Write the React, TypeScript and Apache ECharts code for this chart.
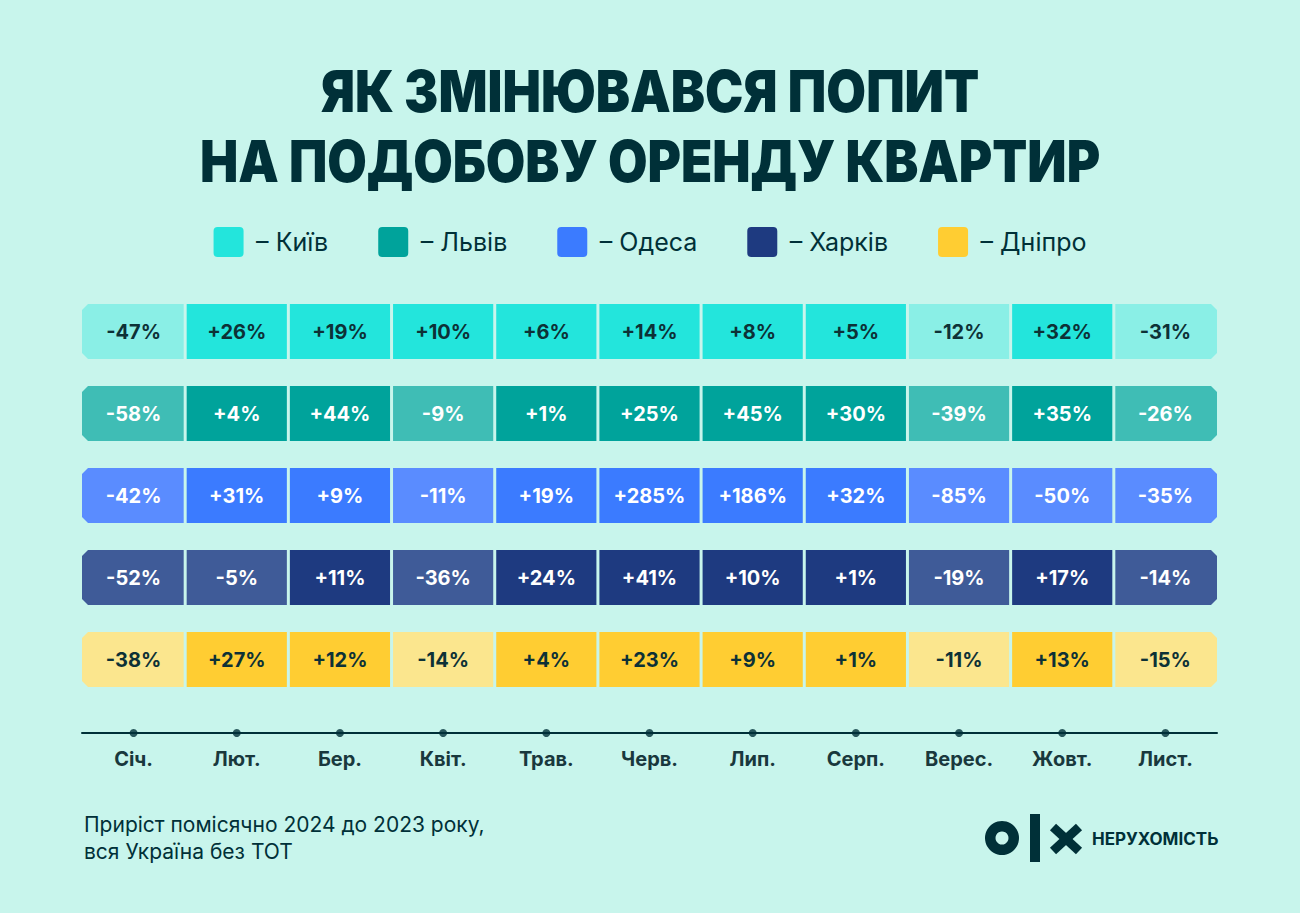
import React, { useEffect, useRef } from "react";
import * as echarts from "echarts";

const months = ["Січ.", "Лют.", "Бер.", "Квіт.", "Трав.", "Черв.", "Лип.", "Серп.", "Верес.", "Жовт.", "Лист."];
const cities = ["Київ", "Львів", "Одеса", "Харків", "Дніпро"];
const kyiv = [-47, 26, 19, 10, 6, 14, 8, 5, -12, 32, -31];
const lviv = [-58, 4, 44, -9, 1, 25, 45, 30, -39, 35, -26];
const odesa = [-42, 31, 9, -11, 19, 285, 186, 32, -85, -50, -35];
const kharkiv = [-52, -5, 11, -36, 24, 41, 10, 1, -19, 17, -14];
const dnipro = [-38, 27, 12, -14, 4, 23, 9, 1, -11, 13, -15];
const rows = [kyiv, lviv, odesa, kharkiv, dnipro];

const posColors = ["#23e5dc", "#00a39b", "#3b7bff", "#1e3a80", "#ffcd32"];
const negColors = ["#8aefe6", "#3fbdb5", "#5a8cff", "#3f5b98", "#fbe68e"];
const textColors = ["#0d3136", "#ffffff", "#ffffff", "#ffffff", "#0d3136"];

const BG = "#c8f5ec";
const DARK = "#003038";
const FONT = "Inter, 'Noto Sans', sans-serif";

export default function App() {
  const ref = useRef<HTMLDivElement>(null);
  useEffect(() => {
    if (!ref.current) return;
    const chart = echarts.init(ref.current, undefined, { renderer: "svg" });
    const last = months.length - 1;

    const series: any[] = rows.map((vals, ri) => ({
      type: "custom",
      name: cities[ri],
      xAxisIndex: 0,
      yAxisIndex: 0,
      silent: true,
      itemStyle: { color: posColors[ri] },
      encode: { x: 0, y: 1 },
      data: vals.map((v, xi) => [xi, ri, v]),
      renderItem: (params: any, api: any) => {
        const xi = api.value(0);
        const yi = api.value(1);
        const v = api.value(2);
        const c = api.coord([xi, yi]);
        const bw = api.size([1, 1])[0];
        const h = 55;
        const gap = 1.5;
        const ch = 6;
        let x0 = c[0] - bw / 2;
        let x1 = c[0] + bw / 2;
        if (xi !== 0) x0 += gap;
        if (xi !== last) x1 -= gap;
        const y0 = c[1] - h / 2;
        const y1 = c[1] + h / 2;
        let pts: number[][];
        if (xi === 0) {
          pts = [[x0 + ch, y0], [x1, y0], [x1, y1], [x0 + ch, y1], [x0, y1 - ch], [x0, y0 + ch]];
        } else if (xi === last) {
          pts = [[x0, y0], [x1 - ch, y0], [x1, y0 + ch], [x1, y1 - ch], [x1 - ch, y1], [x0, y1]];
        } else {
          pts = [[x0, y0], [x1, y0], [x1, y1], [x0, y1]];
        }
        const fill = v >= 0 ? posColors[yi] : negColors[yi];
        const label = (v > 0 ? "+" : "") + v + "%";
        return {
          type: "group",
          children: [
            { type: "polygon", shape: { points: pts }, style: { fill } },
            {
              type: "text",
              style: {
                text: label,
                x: c[0],
                y: c[1],
                textAlign: "center",
                align: "center",
                textVerticalAlign: "middle",
                verticalAlign: "middle",
                fill: textColors[yi],
                fontSize: 20,
                fontWeight: 700,
                fontFamily: FONT,
              },
            },
          ],
        };
      },
    }));

    series.push({
      type: "scatter",
      xAxisIndex: 1,
      yAxisIndex: 1,
      silent: true,
      symbolSize: 8,
      itemStyle: { color: DARK },
      data: months.map((_, i) => [i, 0]),
      z: 5,
    });

    const titleStyle = {
      fill: DARK,
      fontSize: 58,
      fontWeight: 900,
      fontFamily: FONT,
      textAlign: "center",
      textVerticalAlign: "middle",
    };

    chart.setOption({
      animation: false,
      backgroundColor: BG,
      legend: {
        data: cities,
        left: "center",
        top: 222,
        icon: "path://M4,0 H26 Q30,0 30,4 V26 Q30,30 26,30 H4 Q0,30 0,26 V4 Q0,0 4,0 Z",
        itemWidth: 31,
        itemHeight: 30,
        itemGap: 50,
        formatter: " – {name}",
        textStyle: { fontSize: 25, color: DARK, fontFamily: FONT, fontWeight: 400 },
        selectedMode: false,
      },
      grid: [
        { left: 82, right: 83, top: 290.5, height: 410 },
        { left: 82, right: 83, top: 703, height: 30 },
      ],
      xAxis: [
        { type: "category", gridIndex: 0, data: months, show: false },
        {
          type: "category",
          gridIndex: 1,
          data: months,
          position: "bottom",
          axisLine: { show: true, lineStyle: { color: DARK, width: 2 } },
          axisTick: { show: false },
          axisLabel: { color: "#19383d", fontSize: 20, fontWeight: 700, fontFamily: FONT, margin: 16 },
        },
      ],
      yAxis: [
        { type: "category", gridIndex: 0, data: cities, inverse: true, show: false },
        { type: "value", gridIndex: 1, min: 0, max: 1, show: false },
      ],
      graphic: [
        {
          type: "text",
          x: 650,
          y: 91,
          scaleX: 0.885,
          style: { ...titleStyle, text: "ЯК ЗМІНЮВАВСЯ ПОПИТ" },
        },
        {
          type: "text",
          x: 650,
          y: 161,
          scaleX: 0.88,
          style: { ...titleStyle, text: "НА ПОДОБОВУ ОРЕНДУ КВАРТИР" },
        },
        {
          type: "text",
          left: 84,
          top: 811,
          style: {
            text: "Приріст помісячно 2024 до 2023 року,\nвся Україна без ТОТ",
            fill: DARK,
            fontSize: 21,
            lineHeight: 27,
            fontFamily: FONT,
          },
        },
        { type: "ring", shape: { cx: 1002, cy: 838, r: 17, r0: 6.5 }, style: { fill: DARK } },
        { type: "rect", shape: { x: 1030, y: 814, width: 10, height: 48 }, style: { fill: DARK } },
        { type: "line", shape: { x1: 1053, y1: 827, x2: 1079, y2: 851 }, style: { stroke: DARK, lineWidth: 9 } },
        { type: "line", shape: { x1: 1079, y1: 827, x2: 1053, y2: 851 }, style: { stroke: DARK, lineWidth: 9 } },
        {
          type: "text",
          x: 1092,
          y: 839,
          style: {
            text: "НЕРУХОМІСТЬ",
            fill: DARK,
            fontSize: 17,
            fontWeight: 700,
            fontFamily: FONT,
            textVerticalAlign: "middle",
          },
        },
      ],
      series,
    });
    return () => chart.dispose();
  }, []);
  return <div ref={ref} style={{ position: "fixed", left: 0, top: 0, width: 1300, height: 913 }} />;
}
